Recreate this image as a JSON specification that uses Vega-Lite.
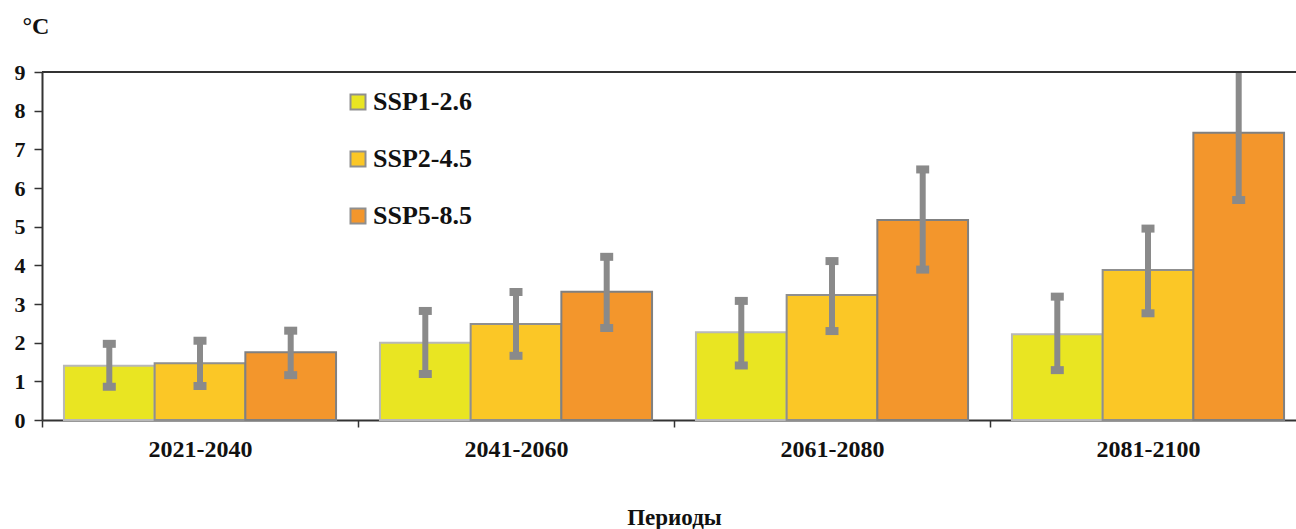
{
  "$schema": "https://vega.github.io/schema/vega-lite/v6.json",
  "autosize": {"type": "none"},
  "width": 1254,
  "height": 348,
  "padding": {"left": 42, "top": 72, "right": 0, "bottom": 109},
  "background": "white",
  "config": {
    "view": {"stroke": null},
    "font": "Liberation Serif",
    "axisY": {
      "titleAngle": 0,
      "titleAlign": "left",
      "titleBaseline": "alphabetic",
      "titleX": -20,
      "titleY": -39,
      "titleFontSize": 24,
      "titleFontWeight": "bold",
      "titleColor": "#111",
      "labelOverlap": false,
      "grid": false,
      "domainColor": "#333",
      "domainWidth": 2,
      "tickColor": "#333",
      "tickWidth": 1.5,
      "tickSize": 8,
      "labelFontSize": 22,
      "labelFontWeight": "bold",
      "labelColor": "#111",
      "labelPadding": 9
    }
  },
  "data": {
    "values": [
      {"period": "2021-2040", "series": "SSP1-2.6", "value": 1.40, "low": 0.86, "high": 1.97},
      {"period": "2021-2040", "series": "SSP2-4.5", "value": 1.47, "low": 0.88, "high": 2.05},
      {"period": "2021-2040", "series": "SSP5-8.5", "value": 1.75, "low": 1.16, "high": 2.31},
      {"period": "2041-2060", "series": "SSP1-2.6", "value": 2.00, "low": 1.19, "high": 2.82},
      {"period": "2041-2060", "series": "SSP2-4.5", "value": 2.48, "low": 1.66, "high": 3.31},
      {"period": "2041-2060", "series": "SSP5-8.5", "value": 3.32, "low": 2.38, "high": 4.22},
      {"period": "2061-2080", "series": "SSP1-2.6", "value": 2.27, "low": 1.41, "high": 3.08},
      {"period": "2061-2080", "series": "SSP2-4.5", "value": 3.23, "low": 2.30, "high": 4.11},
      {"period": "2061-2080", "series": "SSP5-8.5", "value": 5.17, "low": 3.89, "high": 6.48},
      {"period": "2081-2100", "series": "SSP1-2.6", "value": 2.22, "low": 1.29, "high": 3.19},
      {"period": "2081-2100", "series": "SSP2-4.5", "value": 3.88, "low": 2.76, "high": 4.95},
      {"period": "2081-2100", "series": "SSP5-8.5", "value": 7.43, "low": 5.69, "high": 9.17}
    ]
  },
  "encoding": {
    "x": {
      "field": "period",
      "type": "nominal",
      "scale": {"range": [0, 1264], "paddingInner": 0, "paddingOuter": 0},
      "axis": {
        "labelAngle": 0,
        "tickBand": "extent",
        "labelFontSize": 24,
        "labelFontWeight": "bold",
        "labelColor": "#111",
        "labelPadding": 10,
        "domainColor": "#333",
        "domainWidth": 2,
        "tickColor": "#333",
        "tickWidth": 1.5,
        "tickSize": 7,
        "title": "Периоды",
        "titleFontSize": 23,
        "titleFontWeight": "bold",
        "titleColor": "#111",
        "titleBaseline": "alphabetic",
        "titleY": 104
      }
    },
    "xOffset": {
      "field": "series",
      "type": "nominal",
      "sort": ["SSP1-2.6", "SSP2-4.5", "SSP5-8.5"],
      "scale": {"paddingInner": 0, "paddingOuter": 0.242}
    }
  },
  "layer": [
    {
      "mark": {"type": "bar", "strokeWidth": 2},
      "encoding": {
        "y": {
          "field": "value",
          "type": "quantitative",
          "scale": {"domain": [0, 9]},
          "axis": {"title": "°C", "values": [0, 1, 2, 3, 4, 5, 6, 7, 8, 9]}
        },
        "color": {
          "field": "series",
          "type": "nominal",
          "sort": ["SSP1-2.6", "SSP2-4.5", "SSP5-8.5"],
          "scale": {"range": ["#E9E522", "#FBC726", "#F3962C"]},
          "legend": {
            "orient": "none",
            "legendX": 303,
            "legendY": 17,
            "title": null,
            "symbolType": "square",
            "symbolSize": 225,
            "symbolStrokeColor": "#8f8f8f",
            "symbolStrokeWidth": 2,
            "labelFontSize": 26,
            "labelFontWeight": "bold",
            "labelColor": "#111",
            "labelOffset": 2,
            "rowPadding": 31
          }
        },
        "stroke": {
          "field": "series",
          "type": "nominal",
          "sort": ["SSP1-2.6", "SSP2-4.5", "SSP5-8.5"],
          "scale": {"range": ["#b8b8b8", "#8f8f8f", "#808080"]},
          "legend": null
        }
      }
    },
    {
      "mark": {"type": "rule", "color": "#8a8a8a", "strokeWidth": 6, "clip": true},
      "encoding": {
        "y": {"field": "low", "type": "quantitative", "axis": {"title": "°C", "values": [0, 1, 2, 3, 4, 5, 6, 7, 8, 9]}},
        "y2": {"field": "high"}
      }
    },
    {
      "mark": {"type": "tick", "color": "#8a8a8a", "thickness": 8, "size": 13, "opacity": 1, "clip": true},
      "encoding": {"y": {"field": "low", "type": "quantitative", "axis": {"title": "°C", "values": [0, 1, 2, 3, 4, 5, 6, 7, 8, 9]}}}
    },
    {
      "mark": {"type": "tick", "color": "#8a8a8a", "thickness": 8, "size": 13, "opacity": 1, "clip": true},
      "encoding": {"y": {"field": "high", "type": "quantitative", "axis": {"title": "°C", "values": [0, 1, 2, 3, 4, 5, 6, 7, 8, 9]}}}
    },
    {
      "mark": {"type": "rule", "color": "#333", "strokeWidth": 2},
      "encoding": {"y": {"datum": 9, "type": "quantitative", "axis": {"title": "°C", "values": [0, 1, 2, 3, 4, 5, 6, 7, 8, 9]}}, "x": null, "xOffset": null}
    }
  ]
}
